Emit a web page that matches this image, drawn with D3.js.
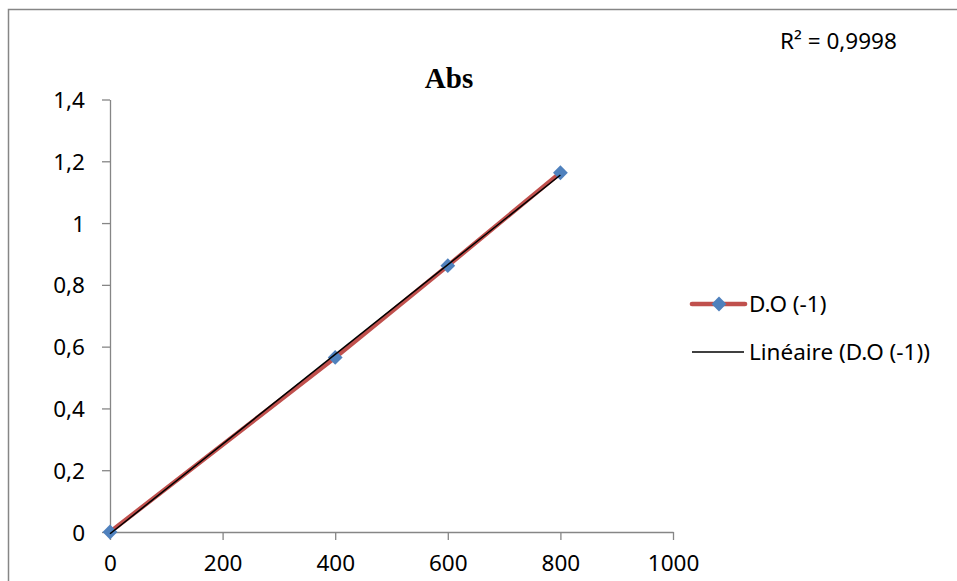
<!DOCTYPE html>
<html>
<head>
<meta charset="utf-8">
<script src="https://cdn.jsdelivr.net/npm/d3@7"></script>
<style>
  body { margin: 0; background: #fff; }
  svg { display: block; font-family: "Noto Sans", sans-serif; }
</style>
</head>
<body>
<div id="chart"></div>
<script>
// data
const xValues = [0, 400, 600, 800];
const yValues = [0, 0.565, 0.862, 1.163];
const xTicks = [0, 200, 400, 600, 800, 1000];
const yTicks = [0, 0.2, 0.4, 0.6, 0.8, 1, 1.2, 1.4];
const seriesName = "D.O (-1)";
const trendName = "Linéaire (D.O (-1))";
const r2Label = "R² = 0,9998";
const title = "Abs";

const width = 957;
const height = 581;
const fontSize = "22.5px";

const svg = d3.select("#chart").append("svg")
  .attr("width", width)
  .attr("height", height);

// outer chart border (clipped right/bottom like the screenshot)
svg.append("path")
  .attr("d", `M8.5,${height + 2} L8.5,9.5 L${width + 2},9.5`)
  .attr("fill", "none")
  .attr("stroke", "#868686")
  .attr("stroke-width", 1.5);

const xScale = d3.scaleLinear().domain([0, 1000]).range([110, 673]);
const yScale = d3.scaleLinear().domain([0, 1.4]).range([532, 99.5]);

const fmt = (d) => String(d).replace(".", ",");

// axes
const xAxis = d3.axisBottom(xScale).tickValues(xTicks).tickSize(8).tickSizeOuter(0).tickPadding(15).tickFormat(fmt);
const yAxis = d3.axisLeft(yScale).tickValues(yTicks).tickSize(8).tickSizeOuter(0).tickPadding(17).tickFormat(fmt);

const gx = svg.append("g").attr("transform", `translate(0, ${yScale(0)})`).call(xAxis);
const gy = svg.append("g").attr("transform", `translate(${xScale(0)}, 0)`).call(yAxis);

[gx, gy].forEach((g) => {
  g.select(".domain").attr("stroke", "#868686").attr("stroke-width", 1.3);
  g.selectAll(".tick line").attr("stroke", "#868686").attr("stroke-width", 1.3);
  g.selectAll(".tick text")
    .attr("fill", "#000")
    .style("font-family", '"Noto Sans", sans-serif')
    .style("font-size", fontSize);
});
gy.selectAll(".tick text").attr("dy", "0.36em");

// data series
const points = xValues.map((x, i) => ({ x, y: yValues[i] }));

const line = d3.line()
  .x((d) => xScale(d.x))
  .y((d) => yScale(d.y));

svg.append("path")
  .datum(points)
  .attr("d", line)
  .attr("fill", "none")
  .attr("stroke", "#C0504D")
  .attr("stroke-width", 4.5)
  .attr("stroke-linejoin", "round");

// linear trendline (least squares on the same data)
const mx = d3.mean(xValues);
const my = d3.mean(yValues);
const slope = d3.sum(xValues, (x, i) => (x - mx) * (yValues[i] - my)) / d3.sum(xValues, (x) => (x - mx) ** 2);
const intercept = my - slope * mx;
const [x0, x1] = d3.extent(xValues);
const trend = [x0, x1].map((x) => ({ x, y: intercept + slope * x }));

const diamond = d3.symbol().type(d3.symbolDiamond2).size(140);

svg.append("g")
  .selectAll("path")
  .data(points)
  .join("path")
  .attr("transform", (d) => `translate(${xScale(d.x)}, ${yScale(d.y)})`)
  .attr("d", diamond)
  .attr("fill", "#4F81BD");

svg.append("path")
  .datum(trend)
  .attr("d", line)
  .attr("fill", "none")
  .attr("stroke", "#000")
  .attr("stroke-width", 1.5);

// title
svg.append("text")
  .attr("x", 449)
  .attr("y", 88)
  .attr("text-anchor", "middle")
  .style("font-family", '"Liberation Serif", serif')
  .style("font-weight", "bold")
  .style("font-size", "29px")
  .text(title);

// R² label
svg.append("text")
  .attr("x", 780)
  .attr("y", 49)
  .style("font-size", fontSize)
  .text(r2Label);

// legend
const legend = svg.append("g");
legend.append("line")
  .attr("x1", 692).attr("x2", 745)
  .attr("y1", 304).attr("y2", 304)
  .attr("stroke", "#C0504D")
  .attr("stroke-width", 4.7)
  .attr("stroke-linecap", "round");
legend.append("path")
  .attr("transform", "translate(719, 304)")
  .attr("d", diamond)
  .attr("fill", "#4F81BD");
legend.append("text")
  .attr("x", 749).attr("y", 304).attr("dy", "0.36em")
  .style("font-size", fontSize)
  .text(seriesName);
legend.append("line")
  .attr("x1", 692).attr("x2", 744)
  .attr("y1", 352).attr("y2", 352)
  .attr("stroke", "#000")
  .attr("stroke-width", 1.5);
legend.append("text")
  .attr("x", 749).attr("y", 352).attr("dy", "0.36em")
  .style("font-size", fontSize)
  .text(trendName);
</script>
</body>
</html>
